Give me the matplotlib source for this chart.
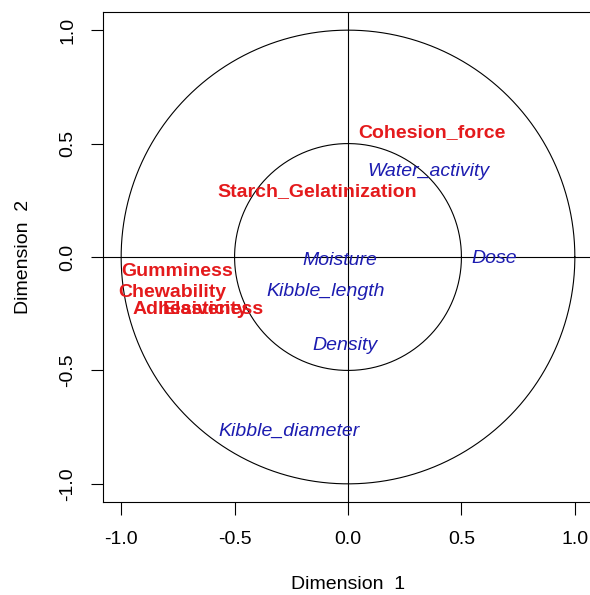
import numpy as np
import matplotlib.pyplot as plt

plt.rcParams['font.family'] = ['Liberation Sans', 'DejaVu Sans']

# sensory / texture variables (red, bold)
red_names = ["Cohesion_force", "Starch_Gelatinization", "Gumminess",
             "Chewability", "Adhesiveness", "Elasticity"]
red_x = [0.37, -0.137, -0.755, -0.773, -0.662, -0.63]
red_y = [0.547, 0.29, -0.066, -0.155, -0.23, -0.23]

# process / physical variables (blue, italic)
blue_names = ["Water_activity", "Moisture", "Dose", "Kibble_length",
              "Density", "Kibble_diameter"]
blue_x = [0.354, -0.036, 0.644, -0.10, -0.014, -0.26]
blue_y = [0.375, -0.017, -0.005, -0.15, -0.39, -0.77]

ticks = [-1.0, -0.5, 0.0, 0.5, 1.0]
radii = [1.0, 0.5]


def main():
    fig = plt.figure(figsize=(5.9, 5.95), dpi=100)
    # plot region runs past the right edge, like the original
    ax = fig.add_axes([103 / 590, 93 / 595, 490 / 590, 490 / 595])
    ax.set_xlim(-1.08, 1.08)
    ax.set_ylim(-1.08, 1.08)

    t = np.linspace(0, 2 * np.pi, 400)
    for r in radii:
        ax.plot(r * np.cos(t), r * np.sin(t), color="black", lw=0.8)
    ax.axhline(0, color="black", lw=0.8)
    ax.axvline(0, color="black", lw=0.8)

    for name, x, y in zip(red_names, red_x, red_y):
        ax.text(x, y, name, color="#e41a1c", fontsize=14, fontweight="bold",
                ha="center", va="center")
    for name, x, y in zip(blue_names, blue_x, blue_y):
        ax.text(x, y, name, color="#1c1cb0", fontsize=14, style="italic",
                ha="center", va="center")

    ax.set_xticks(ticks)
    ax.set_yticks(ticks)
    ax.set_xticklabels([f"{v:.1f}" for v in ticks])
    ax.set_yticklabels([f"{v:.1f}" for v in ticks], rotation=90, va="center")
    ax.tick_params(labelsize=14, length=9, width=0.8)
    ax.tick_params(axis="x", pad=12)
    ax.tick_params(axis="y", pad=10)
    ax.set_xlabel("Dimension  1", fontsize=14, labelpad=20)
    ax.set_ylabel("Dimension  2", fontsize=14, labelpad=20)
    for side in ["top", "bottom", "left", "right"]:
        ax.spines[side].set_linewidth(0.8)

    fig.savefig("out.png", dpi=100)


if __name__ == "__main__":
    main()
